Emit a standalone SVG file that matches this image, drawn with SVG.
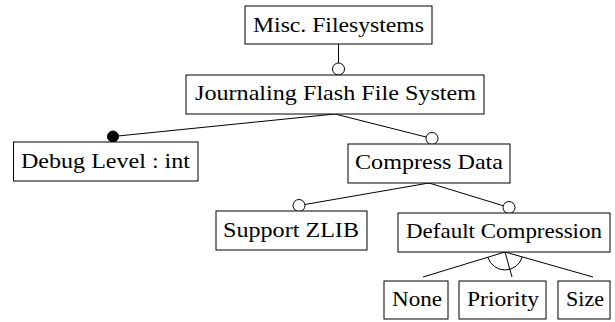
<svg xmlns="http://www.w3.org/2000/svg" width="615" height="322" viewBox="0 0 615 322">
<style>
.box{fill:#fff;stroke:#000;stroke-width:1}
.lbl{font-family:'Liberation Serif','Times New Roman',serif;font-size:21px;fill:#000}
.ln{stroke:#000;stroke-width:1;fill:none}
.opt{fill:#fff;stroke:#000;stroke-width:1}
.man{fill:#000;stroke:#000;stroke-width:1}
</style>
<rect width="615" height="322" fill="#fff"/>
<g id="connectors">
<line class="ln" x1="338.5" y1="44" x2="338.5" y2="69"/>
<line class="ln" x1="335" y1="114" x2="113" y2="136.5"/>
<line class="ln" x1="335" y1="114" x2="432" y2="138.5"/>
<line class="ln" x1="429" y1="183" x2="299" y2="205.5"/>
<line class="ln" x1="429" y1="183" x2="509" y2="207.5"/>
<line class="ln" x1="505" y1="252" x2="423" y2="277"/>
<line class="ln" x1="505" y1="252" x2="512" y2="277"/>
<line class="ln" x1="505" y1="252" x2="593" y2="277"/>
<path class="ln" d="M522.3 256.9 A18 18 0 0 1 487.8 257.3"/>
<circle class="opt" cx="338.5" cy="69" r="6"/>
<circle class="man" cx="113" cy="136.5" r="5.5"/>
<circle class="opt" cx="432" cy="138.5" r="6"/>
<circle class="opt" cx="299" cy="205.5" r="6"/>
<circle class="opt" cx="509" cy="207.5" r="6"/>
</g>
<g id="misc">
<rect class="box" x="245" y="6" width="187" height="38"/>
<text class="lbl" x="253" y="32" textLength="171" lengthAdjust="spacingAndGlyphs">Misc.  Filesystems</text>
</g>
<g id="jffs">
<rect class="box" x="186" y="75" width="298" height="39"/>
<text class="lbl" x="195" y="100" textLength="281" lengthAdjust="spacingAndGlyphs">Journaling Flash File System</text>
</g>
<g id="debug">
<rect class="box" x="13.5" y="142" width="184.5" height="39"/>
<text class="lbl" x="21" y="167.5" textLength="169" lengthAdjust="spacingAndGlyphs">Debug Level : int</text>
</g>
<g id="compress">
<rect class="box" x="348" y="144" width="162" height="39"/>
<text class="lbl" x="355" y="169" textLength="148" lengthAdjust="spacingAndGlyphs">Compress Data</text>
</g>
<g id="zlib">
<rect class="box" x="216" y="211" width="151" height="39"/>
<text class="lbl" x="223" y="236.5" textLength="136" lengthAdjust="spacingAndGlyphs">Support ZLIB</text>
</g>
<g id="default">
<rect class="box" x="398" y="213" width="212" height="39"/>
<text class="lbl" x="406" y="238" textLength="196" lengthAdjust="spacingAndGlyphs">Default Compression</text>
</g>
<g id="none">
<rect class="box" x="384" y="281" width="64" height="38"/>
<text class="lbl" x="392" y="306" textLength="50" lengthAdjust="spacingAndGlyphs">None</text>
</g>
<g id="priority">
<rect class="box" x="459" y="281" width="87" height="38"/>
<text class="lbl" x="467" y="306" textLength="72" lengthAdjust="spacingAndGlyphs">Priority</text>
</g>
<g id="size">
<rect class="box" x="558" y="281" width="52" height="38"/>
<text class="lbl" x="566" y="306" textLength="38" lengthAdjust="spacingAndGlyphs">Size</text>
</g>
</svg>
